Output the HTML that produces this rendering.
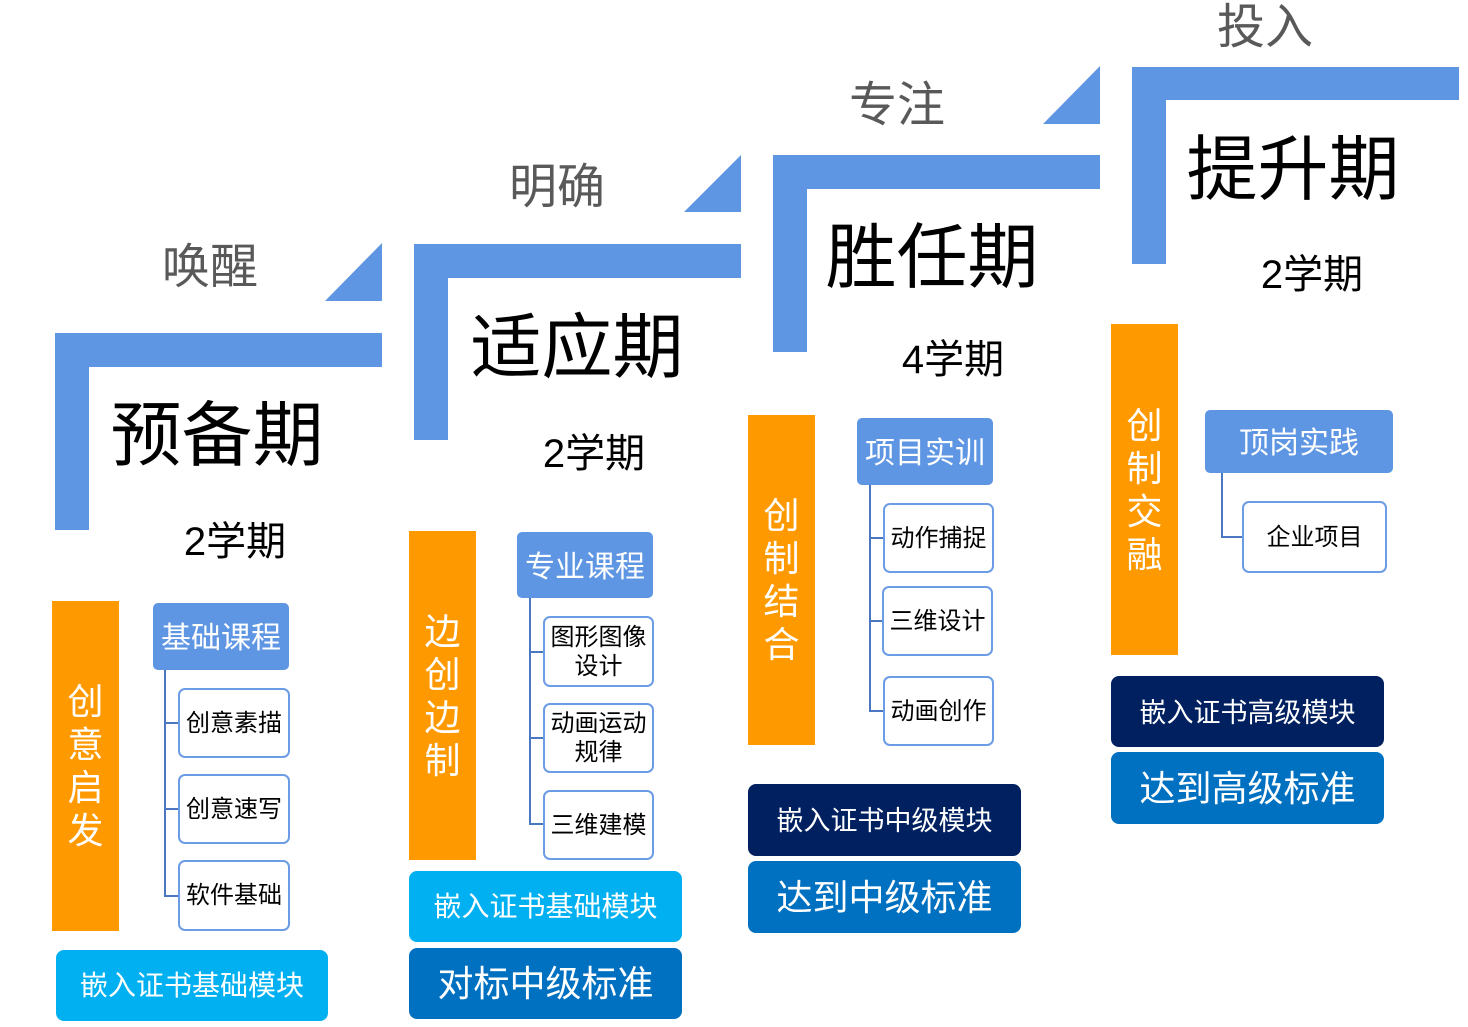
<!DOCTYPE html>
<html><head><meta charset="utf-8"><style>
body{margin:0;width:1468px;height:1027px;background:#fff;position:relative;overflow:hidden;font-family:"Liberation Sans","Noto Sans CJK SC",sans-serif}
.a{position:absolute}
.b{position:absolute;background:#5f96e3}
.t{position:absolute;display:flex;align-items:center;justify-content:center;white-space:nowrap}
.g{color:#595959;font-size:48px}
.big{color:#000;font-size:71px}
.sem{color:#000;font-size:40px}
.or{position:absolute;background:#ff9900;color:#fff;font-size:36px;line-height:43px;display:flex;align-items:center;justify-content:center;text-align:center}
.hd{position:absolute;background:#5f96e3;color:#fff;font-size:30px;border-radius:5px;display:flex;align-items:center;justify-content:center;padding-bottom:3px;box-sizing:border-box}
.ch{position:absolute;background:#fff;border:2px solid #6c9ce6;border-radius:7px;box-sizing:border-box;font-size:24px;color:#000;display:flex;align-items:center;justify-content:center;text-align:center;line-height:29px}
.ln{position:absolute;background:#4a78c0}
.cy{position:absolute;background:#00b0f0;color:#fff;font-size:28px;border-radius:8px;display:flex;align-items:center;justify-content:center;padding-bottom:3px;box-sizing:border-box}
.nv{position:absolute;background:#002060;color:#fff;font-size:27px;border-radius:8px;display:flex;align-items:center;justify-content:center;padding-bottom:3px;box-sizing:border-box}
.bl{position:absolute;background:#0070c0;color:#fff;font-size:36px;border-radius:8px;display:flex;align-items:center;justify-content:center;padding-bottom:5px;box-sizing:border-box}
</style></head><body>
<svg class="a" style="left:0;top:0" width="1468" height="1027">
<polygon points="382,243 382,301 325,301" fill="#5f96e3"/>
<polygon points="741,155 741,212 684,212" fill="#5f96e3"/>
<polygon points="1100,66 1100,124 1043,124" fill="#5f96e3"/>
</svg>
<div class="b" style="left:55px;top:333px;width:327px;height:34px"></div>
<div class="b" style="left:55px;top:333px;width:34px;height:197px"></div>
<div class="b" style="left:414px;top:244px;width:327px;height:34px"></div>
<div class="b" style="left:414px;top:244px;width:34px;height:196px"></div>
<div class="b" style="left:773px;top:155px;width:327px;height:34px"></div>
<div class="b" style="left:773px;top:155px;width:34px;height:197px"></div>
<div class="b" style="left:1132px;top:67px;width:327px;height:33px"></div>
<div class="b" style="left:1132px;top:67px;width:34px;height:197px"></div>
<div class="t g" style="left:110px;top:232px;width:200px;height:60px">唤醒</div>
<div class="t g" style="left:457px;top:152px;width:200px;height:60px">明确</div>
<div class="t g" style="left:797px;top:70px;width:200px;height:60px">专注</div>
<div class="t g" style="left:1165px;top:-8px;width:200px;height:60px">投入</div>
<div class="t big" style="left:67px;top:385px;width:300px;height:90px">预备期</div>
<div class="t big" style="left:427px;top:297px;width:300px;height:90px">适应期</div>
<div class="t big" style="left:782px;top:207px;width:300px;height:90px">胜任期</div>
<div class="t big" style="left:1143px;top:119px;width:300px;height:90px">提升期</div>
<div class="t sem" style="left:135px;top:513px;width:200px;height:50px">2学期</div>
<div class="t sem" style="left:494px;top:425px;width:200px;height:50px">2学期</div>
<div class="t sem" style="left:853px;top:331px;width:200px;height:50px">4学期</div>
<div class="t sem" style="left:1212px;top:246px;width:200px;height:50px">2学期</div>
<div class="or" style="left:52px;top:601px;width:67px;height:330px">创<br>意<br>启<br>发</div>
<div class="hd" style="left:153px;top:603px;width:136px;height:67px">基础课程</div>
<div class="ln" style="left:164px;top:670px;width:2px;height:227px"></div>
<div class="ln" style="left:164px;top:722px;width:14px;height:2px"></div>
<div class="ln" style="left:164px;top:808px;width:14px;height:2px"></div>
<div class="ln" style="left:164px;top:895px;width:14px;height:2px"></div>
<div class="ch" style="left:178px;top:688px;width:112px;height:70px">创意素描</div>
<div class="ch" style="left:178px;top:774px;width:112px;height:70px">创意速写</div>
<div class="ch" style="left:178px;top:860px;width:112px;height:71px">软件基础</div>
<div class="cy" style="left:56px;top:950px;width:272px;height:71px">嵌入证书基础模块</div>
<div class="or" style="left:409px;top:531px;width:67px;height:329px">边<br>创<br>边<br>制</div>
<div class="hd" style="left:517px;top:532px;width:136px;height:66px">专业课程</div>
<div class="ln" style="left:529px;top:598px;width:2px;height:227px"></div>
<div class="ln" style="left:529px;top:651px;width:14px;height:2px"></div>
<div class="ln" style="left:529px;top:737px;width:14px;height:2px"></div>
<div class="ln" style="left:529px;top:823px;width:14px;height:2px"></div>
<div class="ch" style="left:543px;top:616px;width:111px;height:71px">图形图像<br>设计</div>
<div class="ch" style="left:543px;top:703px;width:111px;height:70px">动画运动<br>规律</div>
<div class="ch" style="left:543px;top:790px;width:111px;height:70px">三维建模</div>
<div class="cy" style="left:409px;top:871px;width:273px;height:71px">嵌入证书基础模块</div>
<div class="bl" style="left:409px;top:948px;width:273px;height:71px">对标中级标准</div>
<div class="or" style="left:748px;top:415px;width:67px;height:330px">创<br>制<br>结<br>合</div>
<div class="hd" style="left:857px;top:418px;width:136px;height:67px">项目实训</div>
<div class="ln" style="left:869px;top:485px;width:2px;height:227px"></div>
<div class="ln" style="left:869px;top:537px;width:14px;height:2px"></div>
<div class="ln" style="left:869px;top:620px;width:14px;height:2px"></div>
<div class="ln" style="left:869px;top:710px;width:14px;height:2px"></div>
<div class="ch" style="left:883px;top:503px;width:111px;height:70px">动作捕捉</div>
<div class="ch" style="left:882px;top:586px;width:111px;height:70px">三维设计</div>
<div class="ch" style="left:883px;top:676px;width:111px;height:70px">动画创作</div>
<div class="nv" style="left:748px;top:784px;width:273px;height:72px">嵌入证书中级模块</div>
<div class="bl" style="left:748px;top:861px;width:273px;height:72px">达到中级标准</div>
<div class="or" style="left:1111px;top:324px;width:67px;height:331px">创<br>制<br>交<br>融</div>
<div class="hd" style="left:1205px;top:410px;width:188px;height:63px">顶岗实践</div>
<div class="ln" style="left:1221px;top:473px;width:2px;height:65px"></div>
<div class="ln" style="left:1221px;top:536px;width:21px;height:2px"></div>
<div class="ch" style="left:1242px;top:501px;width:145px;height:72px">企业项目</div>
<div class="nv" style="left:1111px;top:676px;width:273px;height:71px">嵌入证书高级模块</div>
<div class="bl" style="left:1111px;top:752px;width:273px;height:72px">达到高级标准</div>
</body></html>
